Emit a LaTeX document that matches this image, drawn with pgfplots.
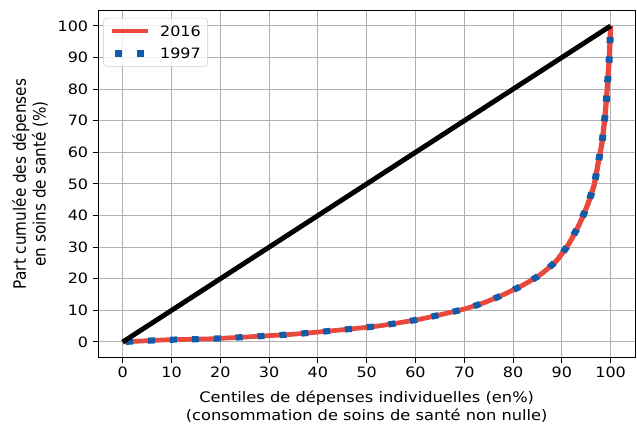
\documentclass[border=0pt]{standalone}
\usepackage{graphicx}
\usepackage{fontspec}
\setmainfont{DejaVu Sans}
\usepackage{pgfplots}
\pgfplotsset{compat=1.18}
\definecolor{cred}{RGB}{233,72,60}
\definecolor{cblue}{RGB}{16,92,170}
\definecolor{cgrid}{RGB}{176,176,176}
\begin{document}
\resizebox{458.6pt}{306pt}{%
\begin{tikzpicture}
\begin{axis}[
  scale only axis,
  width=386.4pt, height=280.3pt,
  xmin=-5, xmax=105, ymin=-5, ymax=105,
  xtick={0,10,...,100}, ytick={0,10,...,100},
  xtick pos=lower, ytick pos=left,
  tick align=outside,
  major tick length=3.8pt,
  every tick/.style={black, line width=0.8pt},
  axis line style={black, line width=0.8pt},
  grid=major,
  grid style={cgrid, line width=0.8pt},
  /pgf/number format/assume math mode=true,
  tick label style={font=\fontsize{11.5}{13.8}\selectfont},
  label style={align=center},
  xlabel={Centiles de dépenses individuelles (en\%)\\(consommation de soins de santé non nulle)},
  ylabel={Part cumulée des dépenses\\en soins de santé (\%)},
  xlabel style={font=\fontsize{11.7}{14.4}\selectfont, at={(axis description cs:0.5,0)}, anchor=north, yshift=-23pt},
  ylabel style={font=\fontsize{12.3}{14.2}\selectfont, at={(axis description cs:-0.0849,0.5)}, anchor=south},
  legend image code/.code={\draw[#1] (0pt,0pt) -- (26.4pt,0pt);},
  legend style={at={(axis description cs:0,1)}, anchor=north west, xshift=3.4pt, yshift=-6.4pt,
    draw=black!20, rounded corners=2.5pt, fill=white, fill opacity=0.8, text opacity=1,
    font=\fontsize{11.5}{13.8}\selectfont, inner xsep=3.5pt, inner ysep=4.6pt,
    nodes={inner sep=1.5pt, text height=8.4pt, text depth=0pt},
    row sep=6.8pt, cells={anchor=west},
    /tikz/every odd column/.append style={column sep=4.5pt}},
  legend cell align=left,
]
\addplot[cred, line width=3.8pt, smooth, tension=0.3]
coordinates {
(0,0) (5,0.4) (9.2,0.7) (17.9,1.0) (26.6,1.7) (35.3,2.5) (43.9,3.7) (52.6,5.1)
(61.2,7.3) (69.7,10.3) (74,12.4) (77.9,14.9) (81.9,17.9) (85.6,21.3) (88.9,25.7)
(91.4,31) (93.5,37) (95.2,43.1) (96.6,49.6) (97.4,56.2) (98.2,62.8) (98.7,69.4)
(99.1,76) (99.4,82.7) (99.7,89.4) (99.9,96.2) (100,100)
};
\addlegendentry{2016}
\addplot[cblue, line width=5pt, dash pattern=on 5pt off 10.8pt, dash phase=-2.4pt, smooth, tension=0.3]
coordinates {
(0,0) (5,0.4) (9.2,0.7) (17.9,1.0) (26.6,1.7) (35.3,2.5) (43.9,3.7) (52.6,5.1)
(61.2,7.3) (69.7,10.3) (74,12.4) (77.9,14.9) (81.9,17.9) (85.6,21.3) (88.9,25.7)
(91.4,31) (93.5,37) (95.2,43.1) (96.6,49.6) (97.4,56.2) (98.2,62.8) (98.7,69.4)
(99.1,76) (99.4,82.7) (99.7,89.4) (99.9,96.2) (100,100)
};
\addlegendentry{1997}
\addplot[black, line width=3.8pt, forget plot] coordinates {(0,0) (100,100)};
\end{axis}
\pgfresetboundingbox
\path[use as bounding box] ([xshift=-70.8pt,yshift=-54.2pt]current axis.south west) rectangle ([xshift=1.4pt,yshift=8.1pt]current axis.north east);
\end{tikzpicture}}
\end{document}
